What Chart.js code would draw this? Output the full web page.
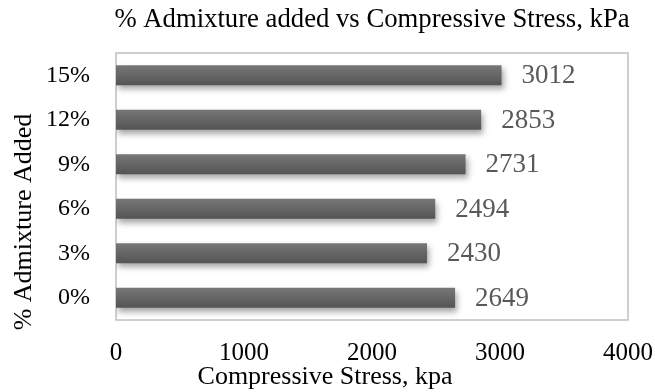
<!DOCTYPE html>
<html>
<head>
<meta charset="utf-8">
<script src="https://cdn.jsdelivr.net/npm/chart.js@4/dist/chart.umd.min.js"></script>
<style>
  html, body { margin: 0; padding: 0; background: #fff; }
  #wrap { width: 655px; height: 392px; position: relative; }
</style>
</head>
<body>
<div id="wrap"><canvas id="c" width="655" height="392"></canvas></div>
<script>
// Admixture percentages (top to bottom) and measured compressive stress
const categories = ['15%', '12%', '9%', '6%', '3%', '0%'];
const stressValues = [3012, 2853, 2731, 2494, 2430, 2649];
const xTickValues = [0, 1000, 2000, 3000, 4000];

const chartTitle = '% Admixture added vs Compressive Stress, kPa';
const xAxisTitle = 'Compressive Stress, kpa';
const yAxisTitle = '% Admixture Added';

const SERIF = '"Liberation Serif", "Times New Roman", serif';

// Vertical gradient for each bar, following the bar's own band on the y scale
function barFill(ctx) {
  const chart = ctx.chart;
  const yScale = chart.scales.y;
  if (!chart.chartArea || !yScale) return '#606060';
  const yc = yScale.getPixelForValue(ctx.dataIndex);
  const half = 10;
  const g = chart.ctx.createLinearGradient(0, yc - half, 0, yc + half);
  g.addColorStop(0, '#777777');
  g.addColorStop(1, '#545454');
  return g;
}

// Soft drop shadow under the bars
const barShadow = {
  id: 'barShadow',
  beforeDatasetsDraw(chart) {
    const c = chart.ctx;
    c.save();
    c.shadowColor = 'rgba(0,0,0,0.35)';
    c.shadowBlur = 6;
    c.shadowOffsetX = 2;
    c.shadowOffsetY = 4;
  },
  afterDatasetsDraw(chart) {
    chart.ctx.restore();
  }
};

// Light frame around the plotting area
const plotFrame = {
  id: 'plotFrame',
  beforeDatasetsDraw(chart) {
    const { left, top, right, bottom } = chart.chartArea;
    const c = chart.ctx;
    c.save();
    c.strokeStyle = '#bfbfbf';
    c.lineWidth = 1.5;
    c.strokeRect(left, top, right - left, bottom - top);
    c.restore();
  }
};

// Value labels to the right of each bar
const valueLabels = {
  id: 'valueLabels',
  afterDatasetsDraw(chart) {
    const c = chart.ctx;
    const meta = chart.getDatasetMeta(0);
    c.save();
    c.font = '27px ' + SERIF;
    c.fillStyle = '#595959';
    c.textAlign = 'left';
    c.textBaseline = 'middle';
    meta.data.forEach((bar, i) => {
      c.fillText(String(chart.data.datasets[0].data[i]), bar.x + 20, bar.y + 1);
    });
    c.restore();
  }
};

// Chart and axis titles
const titles = {
  id: 'titles',
  afterDraw(chart) {
    const c = chart.ctx;
    const area = chart.chartArea;
    c.save();
    c.fillStyle = '#000';
    c.textAlign = 'center';
    c.textBaseline = 'middle';
    c.font = '26.7px ' + SERIF;
    c.fillText(chartTitle, (area.left + area.right) / 2, 20);
    c.font = '26px ' + SERIF;
    c.fillText(xAxisTitle, 325, 377);
    c.translate(24, 222);
    c.rotate(-Math.PI / 2);
    c.fillText(yAxisTitle, 0, 0);
    c.restore();
  }
};

new Chart(document.getElementById('c'), {
  type: 'bar',
  data: {
    labels: categories,
    datasets: [{
      data: stressValues,
      backgroundColor: barFill,
      borderWidth: 0,
      categoryPercentage: 1.0,
      barPercentage: 0.45
    }]
  },
  options: {
    indexAxis: 'y',
    responsive: false,
    animation: false,
    devicePixelRatio: 1,
    layout: { padding: { top: 53, left: 0, right: 0, bottom: 0 } },
    plugins: {
      legend: { display: false },
      title: { display: false },
      tooltip: { enabled: false }
    },
    scales: {
      x: {
        min: 0,
        max: 4000,
        afterBuildTicks(scale) {
          scale.ticks = xTickValues.map(v => ({ value: v }));
        },
        afterFit(scale) {
          scale.height = 72;
          scale.paddingLeft = 0;
          scale.paddingRight = 27;
        },
        grid: { display: false, drawTicks: false, tickLength: 0 },
        border: { display: false },
        ticks: {
          padding: 18,
          color: '#000',
          font: { family: SERIF, size: 25 },
          maxRotation: 0,
          callback: v => String(v)
        }
      },
      y: {
        afterFit(scale) { scale.width = 116; },
        grid: { display: false, drawTicks: false, tickLength: 0 },
        border: { display: false },
        ticks: {
          padding: 26,
          color: '#000',
          font: { family: SERIF, size: 24 }
        }
      }
    }
  },
  plugins: [plotFrame, barShadow, valueLabels, titles]
});
</script>
</body>
</html>
